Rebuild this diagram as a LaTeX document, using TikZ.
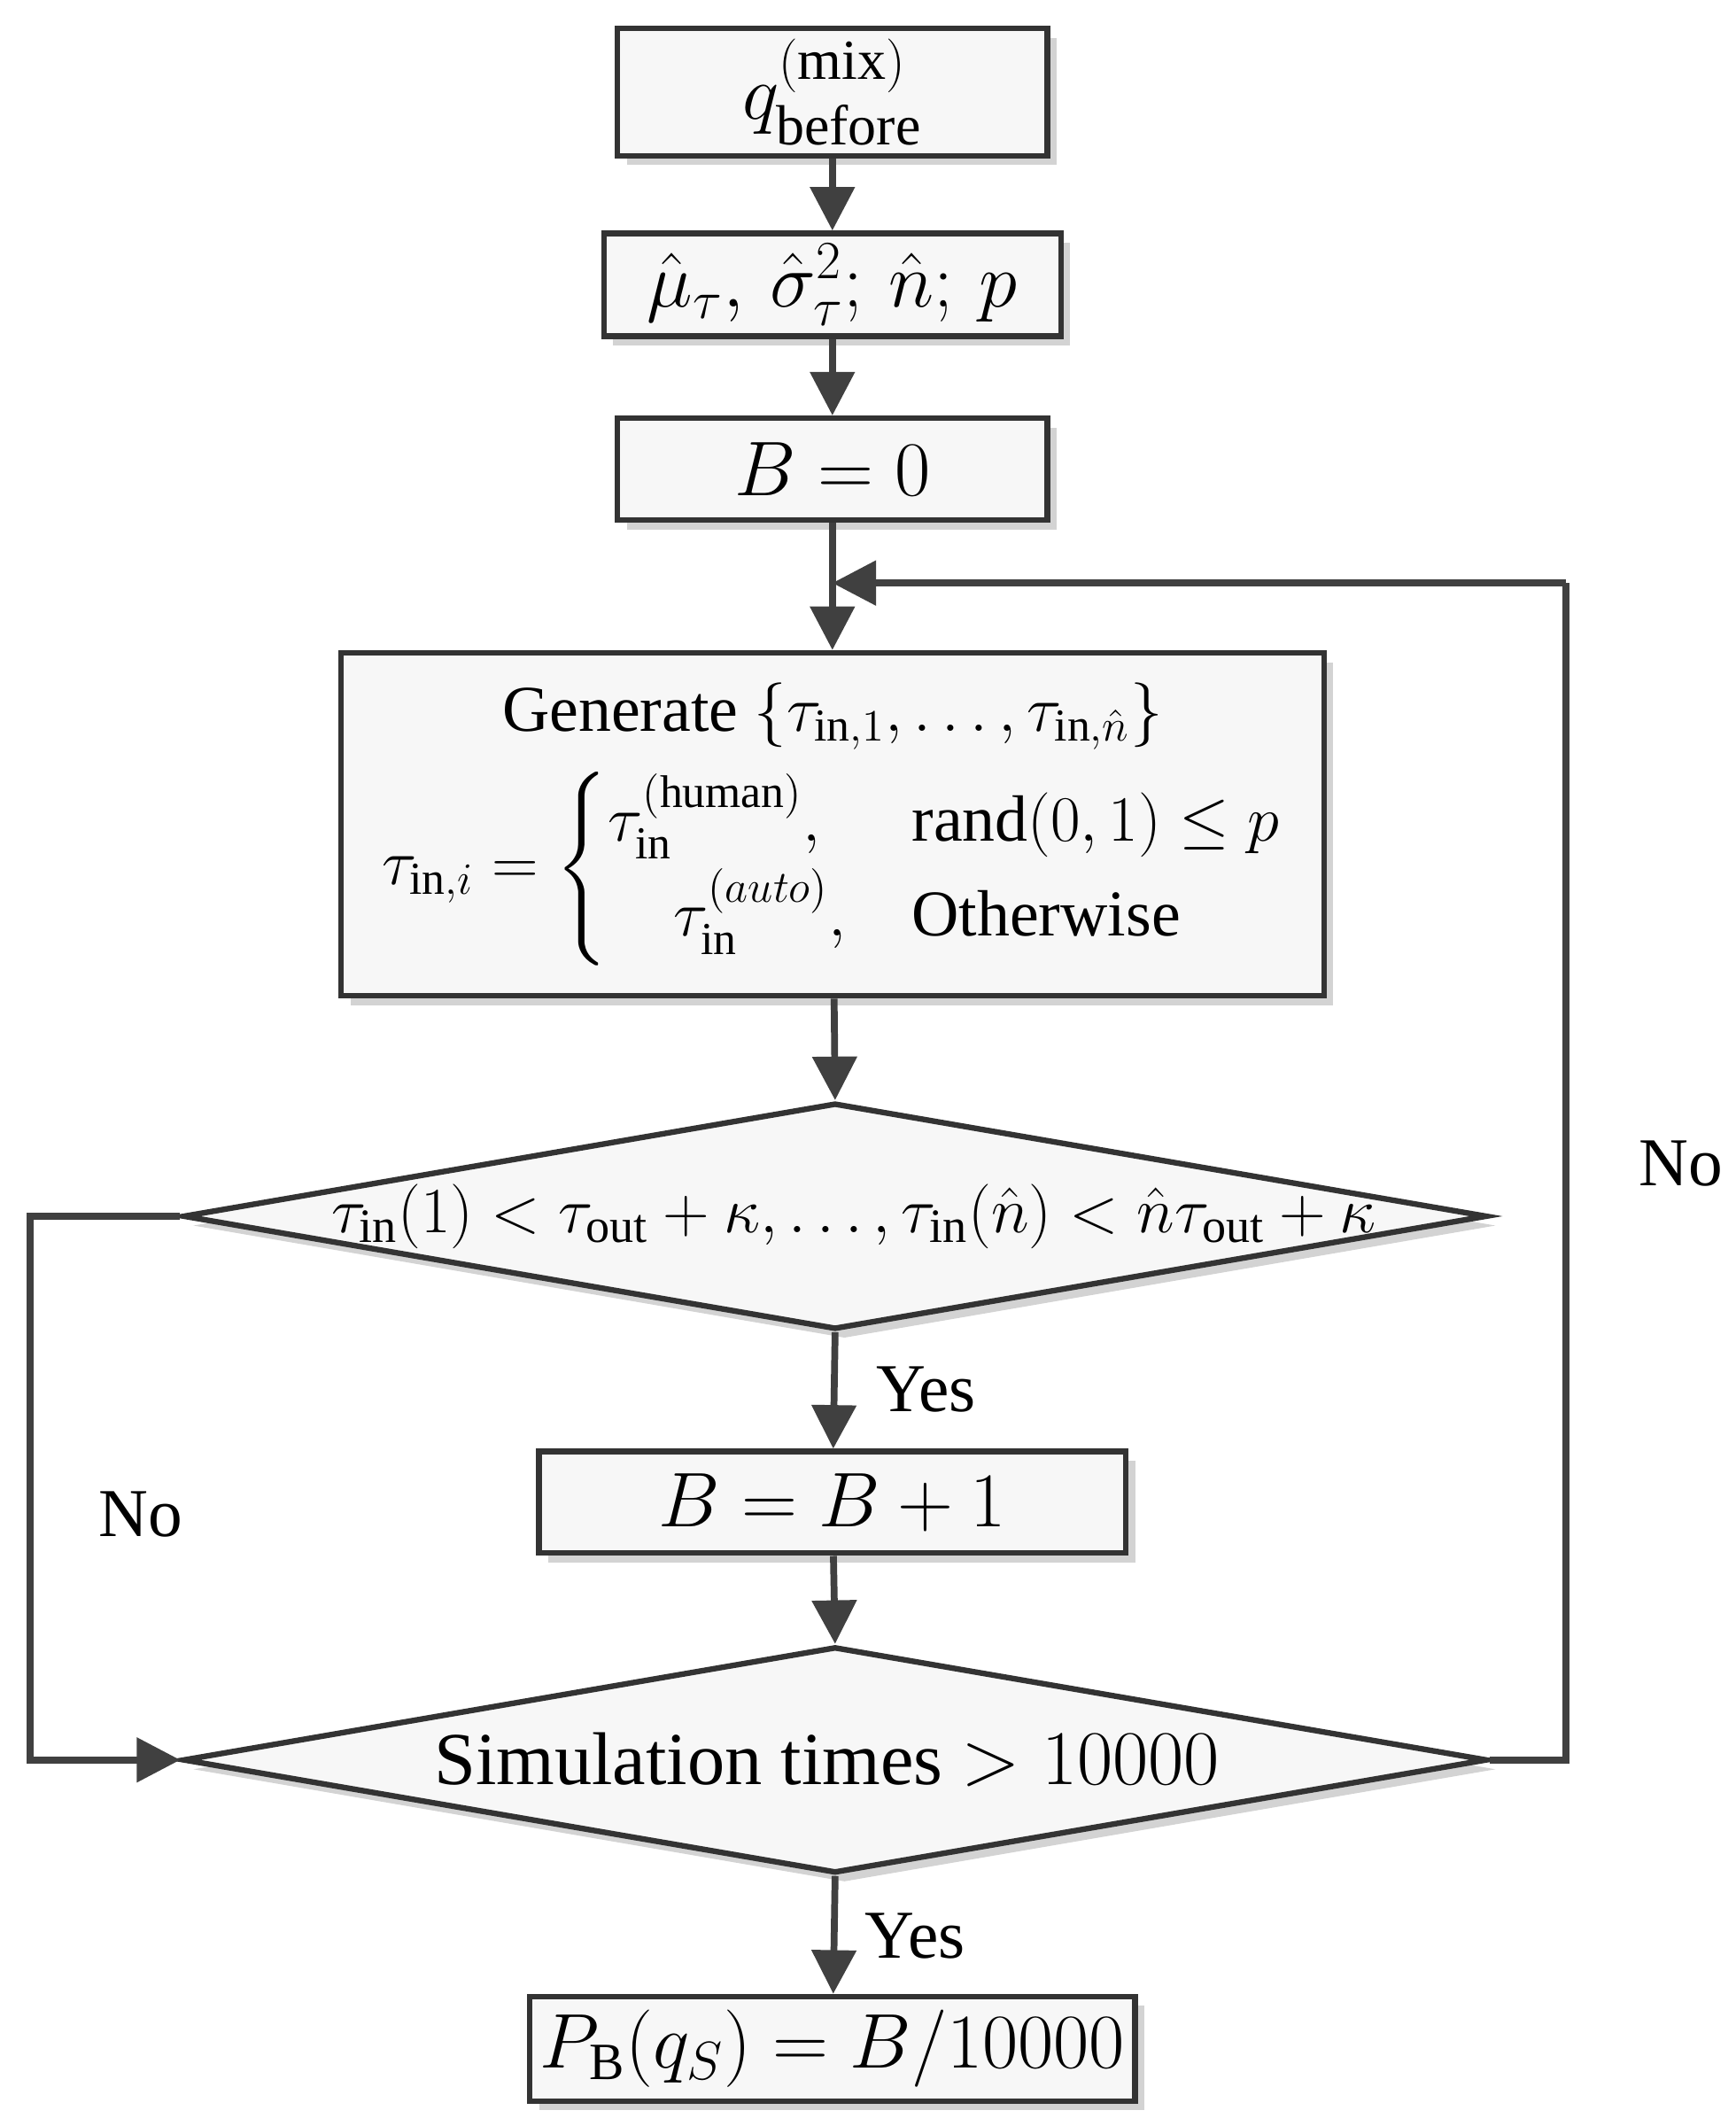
\documentclass[tikz,border=0pt]{standalone}
\usepackage{fontspec}
\usepackage{amsmath}
\setmainfont{Liberation Serif}
\usetikzlibrary{shapes.geometric,arrows.meta,shadows}
\begin{document}
\begin{tikzpicture}[x=0.0153cm,y=-0.0153cm,
  box/.style={draw=black!80,line width=1.8pt,fill=gray!6,drop shadow={shadow xshift=3pt,shadow yshift=-3pt,opacity=0.35},font=\fontsize{26}{30}\selectfont},
  ar/.style={draw=black!75,line width=2.2pt,-{Triangle[length=14pt,width=14pt]}},
  ln/.style={draw=black!75,line width=2.2pt},
  lab/.style={font=\fontsize{22}{26}\selectfont}]
\useasboundingbox (0,0) rectangle (1280,1568);
\node[box,minimum width=317*0.0153cm,minimum height=86*0.0153cm] (b1) at (614,68) {$q_{\text{before}}^{(\text{mix})}$};
\node[box,minimum width=337*0.0153cm,minimum height=75*0.0153cm] (b2) at (614,210) {$\hat{\mu}_{\tau},\,\hat{\sigma}_{\tau}^{2};\,\hat{n};\,p$};
\node[box,minimum width=317*0.0153cm,minimum height=75*0.0153cm] (b3) at (614,346) {$B=0$};
\node[box,minimum width=725*0.0153cm,minimum height=253*0.0153cm,font=\fontsize{21}{25}\selectfont,align=center] (b4) at (614,608) {Generate $\{\tau_{\text{in},1},\dots,\tau_{\text{in},\hat{n}}\}$\\[6pt]
$\tau_{\text{in},i}=\begin{cases}\tau_{\text{in}}^{(\text{human})}, & \text{rand}(0,1)\le p\\ \quad\tau_{\text{in}}^{(auto)}, & \text{Otherwise}\end{cases}$};
\node[box,diamond,aspect=5.76,inner sep=0pt,minimum width=962*0.0153cm,minimum height=167*0.0153cm] (d1) at (616,897) {};
\node[font=\fontsize{22}{26}\selectfont] at (630,897) {$\tau_{\text{in}}(1)<\tau_{\text{out}}+\kappa,\dots,\tau_{\text{in}}(\hat{n})<\hat{n}\tau_{\text{out}}+\kappa$};
\node[box,minimum width=433*0.0153cm,minimum height=75*0.0153cm] (b5) at (614,1108) {$B=B+1$};
\node[box,diamond,aspect=5.76,inner sep=0pt,minimum width=962*0.0153cm,minimum height=167*0.0153cm] (d2) at (616,1298) {};
\node[font=\fontsize{24}{28}\selectfont] at (610,1298) {Simulation times $>10000$};
\node[box,minimum width=437*0.0153cm,minimum height=77*0.0153cm,font=\fontsize{24}{28}\selectfont] (b6) at (614,1511) {$P_{\text{B}}(q_S)=B/10000$};
\draw[ar] (b1) -- (b2);
\draw[ar] (b2) -- (b3);
\draw[ar] (b3) -- (b4);
\draw[ar] (b4) -- (d1.north);
\draw[ar] (d1.south) -- (b5);
\draw[ar] (b5) -- (d2.north);
\draw[ar] (d2.south) -- (b6);
\coordinate (r1) at (1155,1298);
\coordinate (r2) at (1155,430);
\coordinate (r3) at (614,430);
\draw[ln] (d2.east) -- (r1) -- (r2);
\draw[ar] (r2) -- (r3);
\coordinate (l1) at (22,897);
\coordinate (l2) at (22,1298);
\draw[ar] (d1.west) -- (l1) -- (l2) -- (d2.west);
\node[lab] at (1240,858) {No};
\node[lab] at (104,1117) {No};
\node[lab] at (683,1025) {Yes};
\node[lab] at (675,1428) {Yes};
\end{tikzpicture}
\end{document}
